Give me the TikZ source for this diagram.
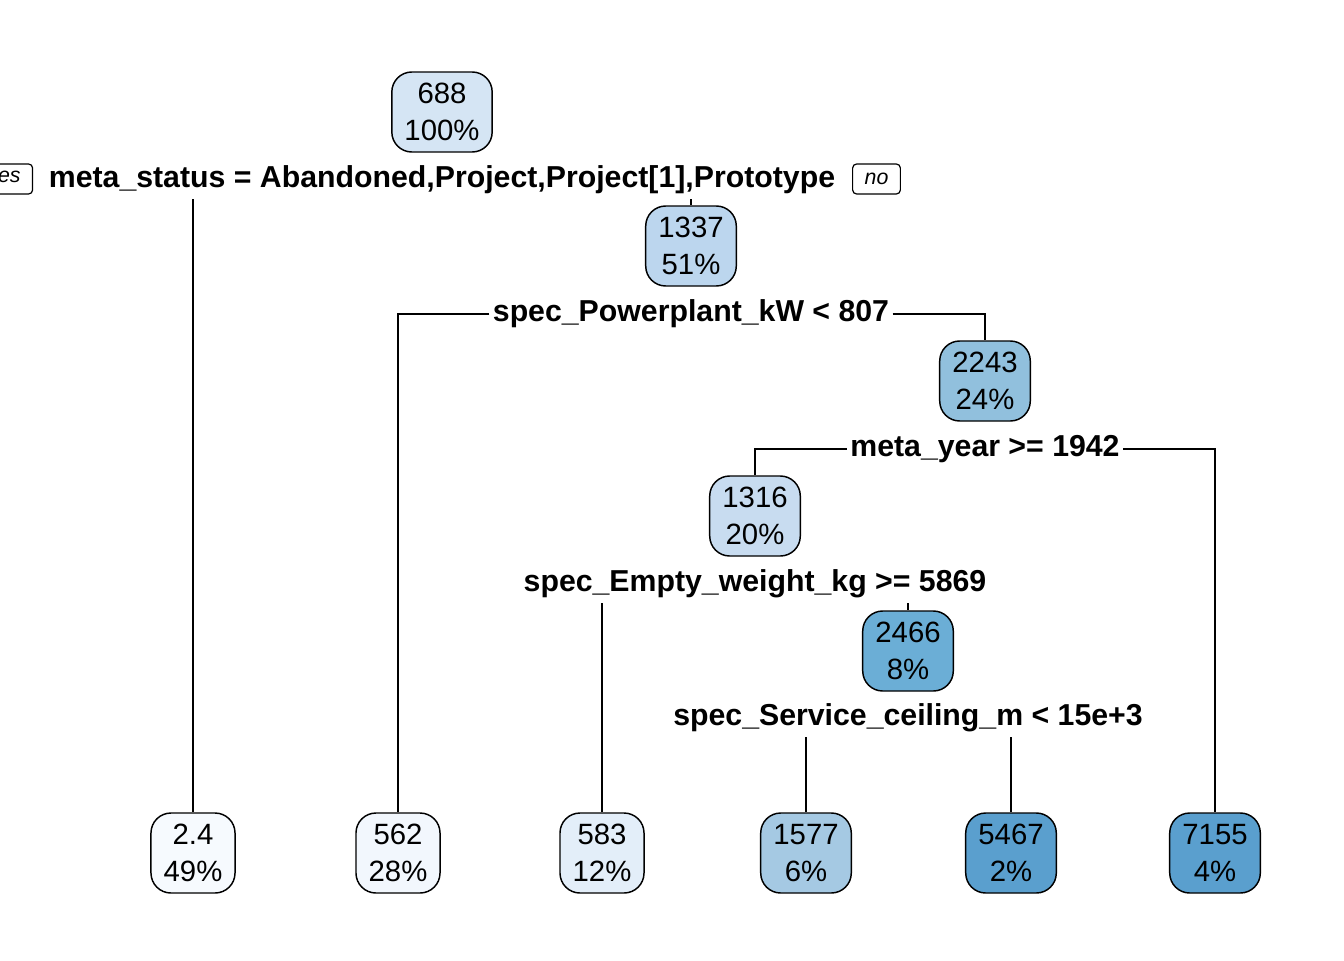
\documentclass[tikz,border=0pt]{standalone}
\usepackage{fontspec}
\setmainfont{Liberation Sans}
\definecolor{cA}{HTML}{D5E5F4}
\definecolor{cB}{HTML}{BCD6EE}
\definecolor{cC}{HTML}{91C0DD}
\definecolor{cD}{HTML}{C8DCF0}
\definecolor{cE}{HTML}{6BAED6}
\definecolor{cF}{HTML}{F6FAFE}
\definecolor{cG}{HTML}{F2F7FD}
\definecolor{cH}{HTML}{E3EEF9}
\definecolor{cI}{HTML}{A5C9E3}
\definecolor{cJ}{HTML}{5A9FCE}
\tikzset{
  treebox/.style={draw=black, line width=1.1pt, rounded corners=15pt, align=center,
    font=\fontsize{22}{27.5}\selectfont, minimum height=60pt, inner xsep=9.5pt, inner ysep=2pt},
  splitlab/.style={font=\fontsize{22.7}{26}\selectfont\bfseries, inner xsep=2.5pt, inner ysep=3pt,
    text height=16.5pt, text depth=6pt},
  yesno/.style={draw=black, line width=0.9pt, rounded corners=3pt, font=\fontsize{16}{18}\selectfont\itshape,
    minimum height=22.5pt, inner xsep=9pt},
  conn/.style={line width=1.1pt}
}
\begin{document}
\begin{tikzpicture}[x=0.75pt,y=-0.75pt]
\useasboundingbox (0,0) rectangle (1344,960);
% inner nodes
\node[treebox, fill=cA] (n1) at (442,112) {688\\100\%};
\node[treebox, fill=cB] (n2) at (691,246) {1337\\51\%};
\node[treebox, fill=cC] (n3) at (985,381) {2243\\24\%};
\node[treebox, fill=cD] (n4) at (755,516) {1316\\20\%};
\node[treebox, fill=cE] (n5) at (908,651) {2466\\8\%};
% leaves
\node[treebox, fill=cF] (l1) at (193,853) {2.4\\49\%};
\node[treebox, fill=cG] (l2) at (398,853) {562\\28\%};
\node[treebox, fill=cH] (l3) at (602,853) {583\\12\%};
\node[treebox, fill=cI] (l4) at (806,853) {1577\\6\%};
\node[treebox, fill=cJ] (l5) at (1011,853) {5467\\2\%};
\node[treebox, fill=cJ] (l6) at (1215,853) {7155\\4\%};
% split labels
\node[splitlab] (s1) at (442,180) {meta\_status = Abandoned,Project,Project[1],Prototype};
\node[splitlab] (s2) at (691,314) {spec\_Powerplant\_kW < 807};
\node[splitlab] (s3) at (985,449) {meta\_year >= 1942};
\node[splitlab] (s4) at (755,584) {spec\_Empty\_weight\_kg >= 5869};
\node[splitlab] (s5) at (908,718) {spec\_Service\_ceiling\_m < 15e+3};
% yes / no
\node[yesno] (yes) at (4,179) {yes};
\node[yesno] (no) at (876.5,179) {no};
% connectors
\draw[conn] (s1.south -| l1.north) -- (l1.north);
\draw[conn] (s1.south -| n2.north) -- (n2.north);
\draw[conn] (s2.west) -| (l2.north);
\draw[conn] (s2.east) -| (n3.north);
\draw[conn] (s3.west) -| (n4.north);
\draw[conn] (s3.east) -| (l6.north);
\draw[conn] (s4.south -| l3.north) -- (l3.north);
\draw[conn] (s4.south -| n5.north) -- (n5.north);
\draw[conn] (s5.south -| l4.north) -- (l4.north);
\draw[conn] (s5.south -| l5.north) -- (l5.north);
\end{tikzpicture}
\end{document}
